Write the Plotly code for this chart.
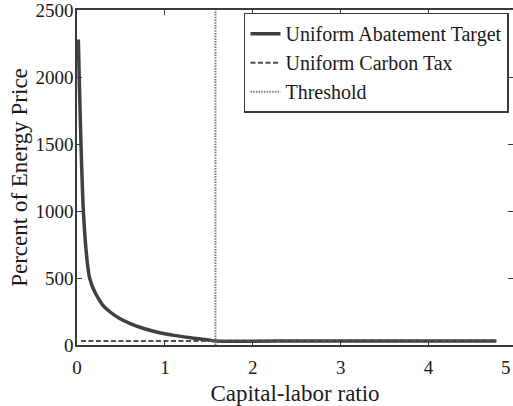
import plotly.graph_objects as go

# Data
ratio = [0.015, 0.02, 0.025, 0.035, 0.045, 0.058, 0.07, 0.085, 0.1, 0.12, 0.14, 0.17, 0.2,
         0.25, 0.29, 0.37, 0.48, 0.6, 0.75, 0.94, 1.125, 1.31, 1.5, 1.57, 2.5, 3.5, 4.77]
abatement = [2280, 2150, 2000, 1750, 1500, 1237, 1030, 860, 730, 600, 510, 445, 400,
             340, 300, 250, 200, 162, 125, 92, 70, 52, 37, 30, 30, 30, 30]
tax_x = [0.045, 4.77]
tax_y = [30, 30]
threshold_x = [1.575, 1.575]
threshold_y = [0, 2500]
x_ticks = [0, 1, 2, 3, 4]
y_ticks = [0, 500, 1000, 1500, 2000, 2500]
x_max = 4.96

FONT = "Liberation Serif"
AX = "#3a3a3a"
FS = 19
LFS = 20

fig = go.Figure()
fig.add_trace(go.Scatter(x=ratio, y=abatement, mode="lines", name="Uniform Abatement Target",
                         legendgroup="a",
                         line=dict(color="#404040", width=3.5, shape="spline", smoothing=0.5)))
fig.add_trace(go.Scatter(x=tax_x, y=tax_y, mode="lines", name="Uniform Carbon Tax",
                         legendgroup="b",
                         line=dict(color="#505050", width=2, dash="5px,2.5px")))
fig.add_trace(go.Scatter(x=threshold_x, y=threshold_y, mode="lines", name="Threshold",
                         legendgroup="c",
                         line=dict(color="#7a7a7a", width=2, dash="1.5px,1.2px")))

fig.update_layout(
    width=513, height=406,
    margin=dict(l=76.5, r=0, t=10, b=61, autoexpand=False),
    paper_bgcolor="white", plot_bgcolor="white",
    font=dict(family=FONT, size=FS, color="#1a1a1a"),
    showlegend=True,
    legend=dict(x=0.9908, y=0.992, xanchor="right", yanchor="top",
                bgcolor="white", bordercolor=AX, borderwidth=1.5,
                font=dict(family=FONT, size=LFS, color="#1a1a1a"),
                itemwidth=30, tracegroupgap=0),
    xaxis=dict(range=[0, x_max], tickvals=x_ticks, ticks="inside", ticklen=5,
               tickcolor=AX, showline=True, linecolor=AX, linewidth=1.5,
               mirror="ticks", showgrid=False, zeroline=False, automargin=False,
               ticklabelstandoff=4, ticklabeloverflow="allow",
               title=dict(text="Capital-labor ratio", standoff=12),
               tickfont=dict(family=FONT, size=FS)),
    yaxis=dict(range=[0, 2500], tickvals=y_ticks, ticks="inside", ticklen=5,
               tickcolor=AX, showline=True, linecolor=AX, linewidth=1.5,
               mirror="ticks", showgrid=False, zeroline=False, automargin=False,
               ticklabelstandoff=-2, ticklabeloverflow="allow",
               title=dict(text="Percent of Energy Price", standoff=1),
               tickfont=dict(family=FONT, size=FS)),
)
fig.add_annotation(x=1.0, xref="paper", xanchor="right", y=0, yref="paper", yanchor="top",
                   yshift=-10, text="5", showarrow=False,
                   font=dict(family=FONT, size=FS, color="#1a1a1a"))

fig.write_html("out.html", config={"displayModeBar": False},
               post_script="document.body.style.margin='0';")
